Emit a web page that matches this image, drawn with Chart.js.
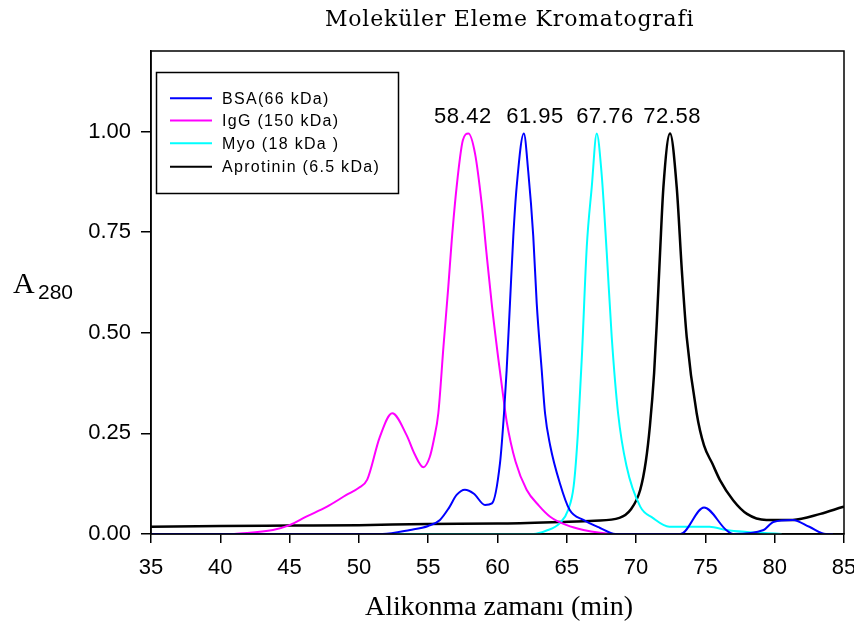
<!DOCTYPE html>
<html><head><meta charset="utf-8">
<script src="https://cdn.jsdelivr.net/npm/chart.js@4.4.1/dist/chart.umd.min.js"></script>
<style>html,body{margin:0;padding:0;background:#fff;}</style>
</head><body>
<canvas id="c" width="854" height="624"></canvas>
<script>
const chartTitle = 'Moleküler Eleme Kromatografi';
const xTitle = 'Alikonma zamanı (min)';
const yTitleMain = 'A';
const yTitleSub = '280';
const seriesNames = ['BSA(66 kDa)', 'IgG (150 kDa)', 'Myo (18 kDa )', 'Aprotinin (6.5 kDa)'];
const seriesColors = ['#0000ff', '#ff00ff', '#00ffff', '#000000'];
const xTicks = [35, 40, 45, 50, 55, 60, 65, 70, 75, 80, 85];
const yTicks = [0, 0.25, 0.5, 0.75, 1.0];

const bsaTime = [35, 51.7, 53.7, 55.0, 55.85, 56.5, 57.05, 57.65, 58.3, 59.1, 59.6, 60.18, 60.47, 60.66, 60.9, 61.14, 61.38, 61.9, 62.22, 62.58, 62.83, 63.19, 63.43, 63.8, 64.5, 65.2, 66.2, 67.4, 68.5, 73.2, 74.9, 76.5, 77.0, 79.2, 79.9, 81.3, 82.5, 83.7, 84.2];
const bsaAbs  = [0, 0, 0.01, 0.02, 0.035, 0.065, 0.097, 0.11, 0.1, 0.072, 0.076, 0.176, 0.30, 0.407, 0.573, 0.74, 0.862, 0.995, 0.90, 0.74, 0.573, 0.407, 0.30, 0.22, 0.126, 0.06, 0.035, 0.015, 0, 0, 0.066, 0.01, 0, 0.01, 0.03, 0.035, 0.018, 0, 0];

const iggTime = [41, 43.8, 45, 46.2, 47.7, 49.1, 50, 50.6, 51.5, 52.4, 53.45, 54.0, 54.65, 55.1, 55.4, 55.73, 56.1, 56.45, 56.7, 57.05, 57.5, 57.9, 58.38, 58.86, 59.2, 59.58, 60.06, 60.42, 60.66, 61.3, 62.1, 63.0, 63.8, 65, 66.2, 67.4, 68.5, 69.4];
const iggAbs  = [0, 0.01, 0.022, 0.043, 0.068, 0.097, 0.115, 0.135, 0.24, 0.30, 0.245, 0.2, 0.166, 0.19, 0.233, 0.30, 0.465, 0.614, 0.73, 0.862, 0.978, 0.995, 0.945, 0.82, 0.70, 0.573, 0.435, 0.34, 0.28, 0.18, 0.11, 0.07, 0.043, 0.022, 0.01, 0.003, 0, 0];

const myoTime = [35, 62.6, 63.5, 64.5, 65.1, 65.5, 65.8, 66.1, 66.44, 66.8, 67.16, 67.5, 67.88, 68.24, 68.7, 69.3, 70.3, 71.2, 72.4, 74.1, 75.3, 76.5, 78, 79.5, 80.5];
const myoAbs  = [0, 0, 0.008, 0.027, 0.06, 0.12, 0.25, 0.45, 0.713, 0.862, 0.995, 0.90, 0.70, 0.49, 0.30, 0.17, 0.068, 0.04, 0.018, 0.018, 0.018, 0.01, 0.005, 0.002, 0];

const aproTime = [35, 40, 45, 50, 55, 60, 64.5, 67, 68.8, 69.6, 70.3, 70.7, 71.0, 71.3, 71.5, 71.73, 71.97, 72.45, 72.93, 73.3, 73.65, 74.37, 74.9, 75.5, 76.05, 77, 78, 79.4, 81.3, 83.3, 84.9, 85];
const aproAbs  = [0.018, 0.02, 0.021, 0.022, 0.025, 0.026, 0.03, 0.033, 0.04, 0.06, 0.11, 0.18, 0.27, 0.40, 0.53, 0.70, 0.862, 0.995, 0.862, 0.655, 0.49, 0.30, 0.22, 0.175, 0.134, 0.084, 0.05, 0.035, 0.035, 0.05, 0.067, 0.068];

const peakLabels = ['58.42', '61.95', '67.76', '72.58'];
const peakLabelTime = [57.5, 62.7, 67.75, 72.6];
const peakLabelAbs = 1.02;

const seriesTimes = [bsaTime, iggTime, myoTime, aproTime];
const seriesAbs = [bsaAbs, iggAbs, myoAbs, aproAbs];

const datasets = seriesNames.map((name, i) => ({
  label: name,
  data: seriesTimes[i].map((t, j) => ({x: t, y: seriesAbs[i][j]})),
  borderColor: seriesColors[i],
  backgroundColor: seriesColors[i],
  borderWidth: i === 3 ? 2.5 : 2,
  pointRadius: 0,
  fill: false,
  cubicInterpolationMode: 'monotone'
}));

function fitText(ctx, text, font, cx, y, target) {
  ctx.save();
  ctx.font = font;
  ctx.letterSpacing = '0px';
  const w0 = ctx.measureText(text).width;
  const sp = (target - w0) / Math.max(1, text.length - 1);
  ctx.letterSpacing = Math.max(-1, sp) + 'px';
  ctx.textAlign = 'left';
  ctx.textBaseline = 'alphabetic';
  ctx.fillStyle = '#000';
  ctx.fillText(text, cx - target / 2, y);
  ctx.restore();
}

const decor = {
  id: 'decor',
  beforeDraw(chart) {
    const c = chart.ctx;
    c.save(); c.fillStyle = '#fff'; c.fillRect(0, 0, chart.width, chart.height); c.restore();
  },
  afterDraw(chart) {
    const ctx = chart.ctx, a = chart.chartArea, xs = chart.scales.x, ys = chart.scales.y;
    ctx.save();
    ctx.strokeStyle = '#000'; ctx.lineWidth = 1.5;
    ctx.strokeRect(a.left, a.top, a.right - a.left, a.bottom - a.top);
    // titles
    fitText(ctx, chartTitle, '22px "DejaVu Serif"', 509, 26, 368);
    fitText(ctx, xTitle, '28px "Liberation Serif"', 499, 615, 268);
    ctx.fillStyle = '#000';
    ctx.textAlign = 'left'; ctx.textBaseline = 'alphabetic';
    ctx.font = '30px "Liberation Serif"';
    ctx.fillText(yTitleMain, 13, 293);
    ctx.font = '21px "Liberation Sans"';
    ctx.fillText(yTitleSub, 38, 299);
    // peak labels
    ctx.font = '22px "Liberation Sans"';
    ctx.letterSpacing = '0.5px';
    ctx.textAlign = 'center';
    peakLabels.forEach((t, i) => {
      ctx.fillText(t, xs.getPixelForValue(peakLabelTime[i]), ys.getPixelForValue(peakLabelAbs));
    });
    ctx.letterSpacing = '0px';
    // legend
    ctx.lineWidth = 1.5; ctx.strokeStyle = '#000';
    ctx.strokeRect(156.5, 72.5, 242, 121);
    const rows = [98.3, 120.5, 143.3, 166.7];
    ctx.font = '16px "Liberation Sans"';
    ctx.letterSpacing = '1.3px';
    ctx.textAlign = 'left'; ctx.textBaseline = 'middle';
    seriesNames.forEach((n, i) => {
      ctx.strokeStyle = seriesColors[i]; ctx.lineWidth = 2;
      ctx.beginPath(); ctx.moveTo(170, rows[i]); ctx.lineTo(212, rows[i]); ctx.stroke();
      ctx.fillStyle = '#000';
      ctx.fillText(n, 222, rows[i] + 1);
    });
    ctx.restore();
  }
};

new Chart(document.getElementById('c'), {
  type: 'line',
  data: { datasets },
  options: {
    responsive: false,
    devicePixelRatio: 1,
    animation: false,
    layout: { padding: { left: 0, top: 51, right: 10, bottom: 0 } },
    plugins: { legend: { display: false }, title: { display: false }, tooltip: { enabled: false } },
    scales: {
      x: {
        type: 'linear', min: 35, max: 85,
        afterBuildTicks: s => { s.ticks = xTicks.map(v => ({ value: v })); },
        afterFit: s => { s.height = 90; s.paddingRight = 0; s.paddingLeft = 0; },
        ticks: { color: '#000', font: { family: 'Liberation Sans', size: 22 }, padding: 12, maxRotation: 0, autoSkip: false },
        grid: { display: true, drawOnChartArea: false, drawTicks: true, tickLength: 9, color: '#000', lineWidth: 1.5 },
        border: { display: true, color: '#000', width: 1.5 }
      },
      y: {
        type: 'linear', min: 0, max: 1.2,
        afterBuildTicks: s => { s.ticks = yTicks.map(v => ({ value: v })); },
        afterFit: s => { s.width = 151; s.paddingTop = 0; s.paddingBottom = 0; },
        ticks: { color: '#000', font: { family: 'Liberation Sans', size: 22 }, padding: 10, callback: v => Number(v).toFixed(2) },
        grid: { display: true, drawOnChartArea: false, drawTicks: true, tickLength: 10, color: '#000', lineWidth: 1.5 },
        border: { display: true, color: '#000', width: 1.5 }
      }
    }
  },
  plugins: [decor]
});
</script>
</body></html>
